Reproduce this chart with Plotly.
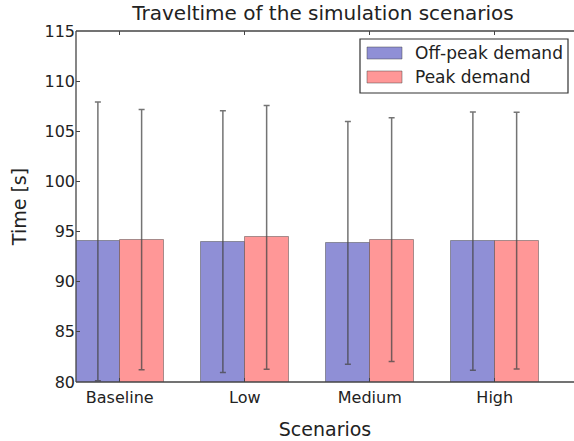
import plotly.graph_objects as go

# ---- data ----
scenarios = ["Baseline", "Low", "Medium", "High"]
offpeak_mean = [94.03, 94.00, 93.87, 94.05]
offpeak_std = [13.90, 13.05, 12.10, 12.87]
peak_mean = [94.20, 94.43, 94.20, 94.10]
peak_std = [12.97, 13.15, 12.15, 12.80]
series_names = ["Off-peak demand", "Peak demand"]
y_ticks = [80, 85, 90, 95, 100, 105, 110, 115]

# ---- style ----
W, H = 574, 441
ML, MR, MT, MB = 76, 0, 31, 59
BAR_W = 0.35
BLUE = "#8F8FD6"
RED = "#FF9797"
EDGE = "rgba(60,60,60,0.45)"
ERR = "rgba(70,70,70,0.75)"
FONT = "DejaVu Sans"
TXT = "#222222"

idx = list(range(len(scenarios)))
x_off = [i + BAR_W / 2 for i in idx]
x_peak = [i + BAR_W * 1.5 for i in idx]

fig = go.Figure()
fig.add_trace(go.Bar(
    x=x_off, y=offpeak_mean, width=BAR_W, name=series_names[0],
    marker=dict(color=BLUE, line=dict(color=EDGE, width=1)),
    error_y=dict(type="data", array=offpeak_std, visible=True,
                 color=ERR, thickness=1.5, width=3),
    showlegend=False,
))
fig.add_trace(go.Bar(
    x=x_peak, y=peak_mean, width=BAR_W, name=series_names[1],
    marker=dict(color=RED, line=dict(color=EDGE, width=1)),
    error_y=dict(type="data", array=peak_std, visible=True,
                 color=ERR, thickness=1.5, width=3),
    showlegend=False,
))

plot_w = W - ML - MR
plot_h = H - MT - MB
px_per_unit = 125.0


def px(xp):
    return (xp - ML) / plot_w


def py(yp):
    return (H - MB - yp) / plot_h


# axes frame: left, bottom, top
frame = dict(type="line", xref="paper", yref="paper",
             line=dict(color="#444444", width=1.3), layer="above")
shapes = [
    dict(frame, x0=0, x1=0, y0=0, y1=1),
    dict(frame, x0=0, x1=1, y0=0, y1=0),
    dict(frame, x0=0, x1=1, y0=1, y1=1),
]

# legend box
shapes.append(dict(type="rect", xref="paper", yref="paper",
                   x0=px(360), x1=px(568), y0=py(93), y1=py(39),
                   line=dict(color="#333333", width=1.2),
                   fillcolor="white", layer="above"))
colors = [BLUE, RED]
row_y = [53, 77]
annotations = []
for name, c, ry in zip(series_names, colors, row_y):
    shapes.append(dict(type="rect", xref="paper", yref="paper",
                       x0=px(367), x1=px(402), y0=py(ry + 6), y1=py(ry - 6),
                       line=dict(color=EDGE, width=1), fillcolor=c,
                       layer="above"))
    annotations.append(dict(xref="paper", yref="paper", x=px(413), y=py(ry),
                            xanchor="left", yanchor="middle", text=name,
                            showarrow=False,
                            font=dict(family=FONT, size=17, color=TXT)))

fig.update_layout(
    width=W, height=H,
    margin=dict(l=ML, r=MR, t=MT, b=MB),
    paper_bgcolor="white", plot_bgcolor="white",
    barmode="overlay",
    bargap=0,
    font=dict(family=FONT, size=16, color=TXT),
    title=dict(text="Traveltime of the simulation scenarios",
               xref="paper", x=px(323), xanchor="center",
               yref="container", y=1 - 13 / H, yanchor="middle",
               font=dict(family=FONT, size=20, color=TXT)),
    shapes=shapes,
    annotations=annotations,
)
fig.update_xaxes(
    range=[0, plot_w / px_per_unit],
    tickvals=[i + BAR_W for i in idx], ticktext=scenarios,
    ticks="inside", ticklen=4, tickcolor="#444444", mirror="ticks",
    showline=False, showgrid=False, zeroline=False,
    ticklabelstandoff=4,
    title=dict(text="Scenarios", standoff=16, font=dict(size=19)),
    tickfont=dict(size=16),
)
fig.update_yaxes(
    range=[80, 115], tickvals=y_ticks,
    ticks="inside", ticklen=4, tickcolor="#444444", mirror=False,
    showline=False, showgrid=False, zeroline=False,
    title=dict(text="Time [s]", standoff=12, font=dict(size=19)),
    tickfont=dict(size=16),
)

fig.write_html("out.html")
